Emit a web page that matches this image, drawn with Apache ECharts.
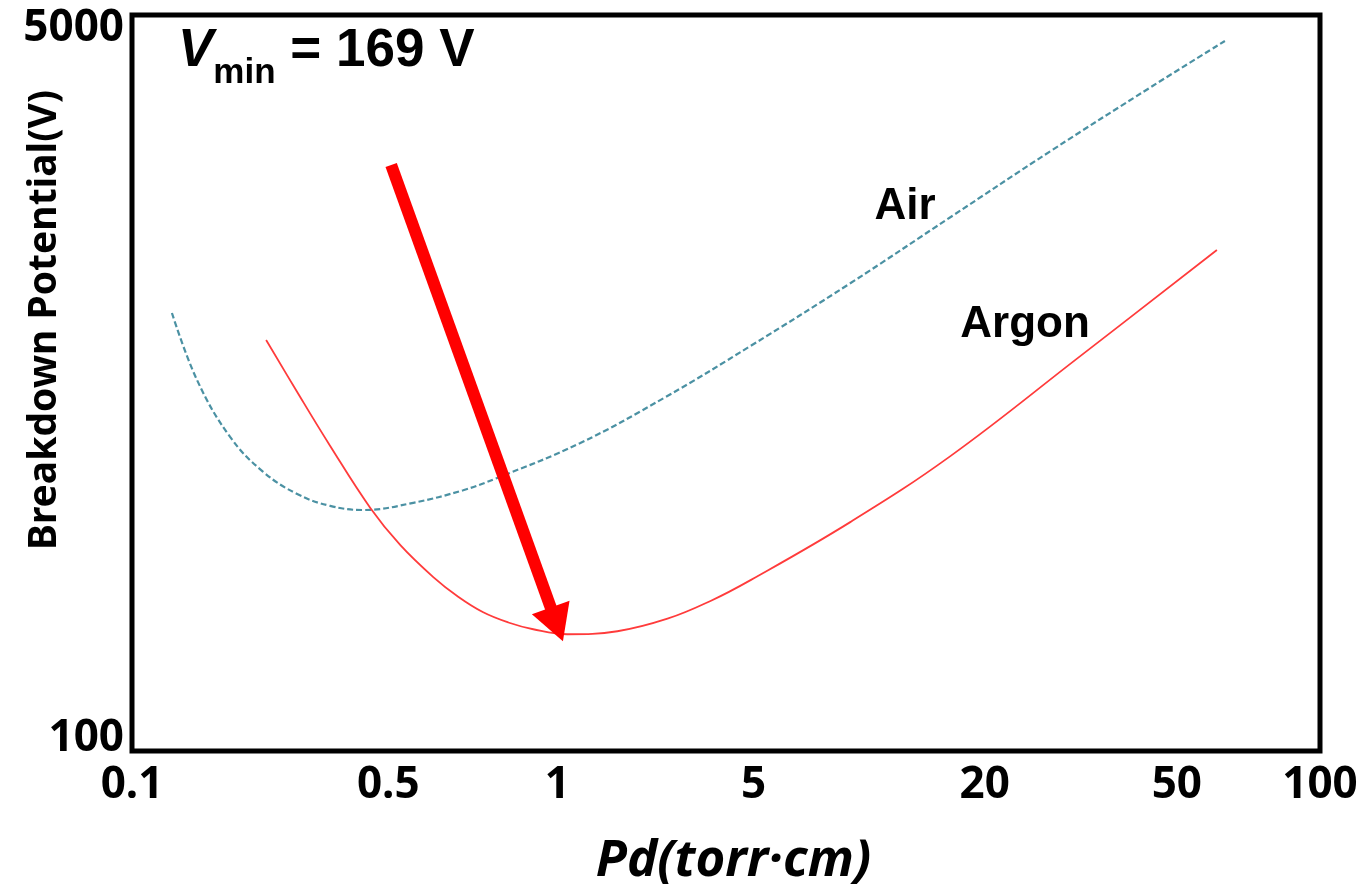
<!DOCTYPE html>
<html>
<head>
<meta charset="utf-8">
<style>
  html, body { margin: 0; padding: 0; background: #ffffff; }
  #chart { width: 1363px; height: 885px; }
</style>
<script src="https://cdn.jsdelivr.net/npm/echarts@6/dist/echarts.min.js"></script>
</head>
<body>
<div id="chart"></div>
<script>
// ---------- data ----------
const xTickValues = [0.1, 0.5, 1, 5, 20, 50, 100];
const xTickLabels = ['0.1', '0.5', '1', '5', '20', '50', '100'];
const yTickValues = [100, 5000];

// Air (dashed) : Pd (torr·cm) and breakdown voltage (V)
const airPd = [0.1285, 0.1505, 0.1852, 0.2279, 0.2822, 0.3472, 0.4273, 0.554, 0.680, 0.782, 1.208, 2.427, 4.879, 8.95, 16.31, 27.4, 44.2, 63.1];
const airV  = [1026, 718, 531, 441, 392, 368, 360, 374, 400, 427, 514, 656, 861, 1203, 1709, 2427, 3410, 4355];

// Argon (solid)
const argonPd = [0.2322, 0.2822, 0.3472, 0.4467, 0.525, 0.6014, 0.666, 0.738, 0.818, 0.906, 1.086, 1.637, 2.468, 3.513, 4.879, 8.95, 16.31, 31.2, 60.7];
const argonV  = [889, 674, 506, 364, 299, 252, 227, 209, 198, 191, 186, 189, 202, 222, 248, 338, 480, 808, 1434];

// Arrow annotation pointing at the argon minimum: [Pd, V] start and end
const arrowStart = [0.506, 2253];
const arrowEnd   = [0.998, 196];

// ---------- layout of the (non-uniform) Pd axis ----------
// fraction of the axis length at which each Pd tick sits in the picture
const xTickFrac = [0, 0.2157, 0.3580, 0.5232, 0.7178, 0.8795, 1];

function pdToAxis(pd) {
  for (let i = 0; i < xTickValues.length - 1; i++) {
    const a = xTickValues[i], b = xTickValues[i + 1];
    if (pd <= b || i === xTickValues.length - 2) {
      const t = Math.log(pd / a) / Math.log(b / a);
      return xTickFrac[i] + t * (xTickFrac[i + 1] - xTickFrac[i]);
    }
  }
}
function axisLabelFor(v) {
  let best = 0, d = Infinity;
  xTickFrac.forEach((f, i) => { const dd = Math.abs(f - v); if (dd < d) { d = dd; best = i; } });
  return xTickLabels[best];
}

const airData = airPd.map((p, i) => [pdToAxis(p), airV[i]]);
const argonData = argonPd.map((p, i) => [pdToAxis(p), argonV[i]]);

const tickFont = '"Noto Sans", "DejaVu Sans", sans-serif';
const arialFont = '"Liberation Sans", Arial, sans-serif';

const chart = echarts.init(document.getElementById('chart'));
chart.setOption({
  animation: false,
  backgroundColor: '#ffffff',
  title: {
    left: 178,
    top: 11,
    padding: 0,
    text: '{v|V}{sub|min}{n| = 169 V}',
    textStyle: {
      rich: {
        v:   { fontSize: 53, fontStyle: 'italic', fontWeight: 'bold', fontFamily: arialFont, color: '#000', lineHeight: 80, verticalAlign: 'middle' },
        sub: { fontSize: 35, fontWeight: 'bold', fontFamily: arialFont, color: '#000', lineHeight: 40, verticalAlign: 'bottom' },
        n:   { fontSize: 53, fontWeight: 'bold', fontFamily: arialFont, color: '#000', lineHeight: 80, verticalAlign: 'middle' }
      }
    }
  },
  grid: {
    left: 132, right: 43, top: 15, bottom: 134,
    outerBoundsMode: 'none',
    containLabel: false,
    show: true, borderColor: '#000', borderWidth: 5, backgroundColor: 'transparent'
  },
  xAxis: {
    type: 'value', min: 0, max: 1,
    name: 'Pd(torr·cm)',
    nameLocation: 'middle',
    nameGap: 85,
    nameMoveOverlap: false,
    nameTextStyle: { fontSize: 51, fontStyle: 'italic', fontWeight: 'bold', fontFamily: tickFont, color: '#000', padding: [0, 0, 0, 15] },
    axisLine: { show: false },
    axisTick: { show: false },
    splitLine: { show: false },
    axisLabel: {
      customValues: xTickFrac,
      formatter: (v) => axisLabelFor(v),
      fontSize: 44, fontWeight: 'bold', fontFamily: tickFont, color: '#000', margin: 12
    }
  },
  yAxis: {
    type: 'log', logBase: 10, min: 100, max: 5000,
    name: 'Breakdown Potential(V)',
    nameLocation: 'middle',
    nameGap: 68,
    nameMoveOverlap: false,
    nameTextStyle: { fontSize: 39, fontWeight: 'bold', fontFamily: tickFont, color: '#000', padding: [0, 0, 0, 126] },
    axisLine: { show: false },
    axisTick: { show: false },
    splitLine: { show: false },
    axisLabel: {
      customValues: yTickValues,
      formatter: (v) => String(Math.round(v)),
      verticalAlignMinLabel: 'bottom',
      verticalAlignMaxLabel: 'top',
      lineHeight: 26,
      fontSize: 44, fontWeight: 'bold', fontFamily: tickFont, color: '#000', margin: 8
    }
  },
  graphic: [
    { type: 'text', x: 905, y: 207, z: 10, style: { text: 'Air', fontSize: 44, fontWeight: 'bold', fontFamily: arialFont, fill: '#000', align: 'center', verticalAlign: 'middle' } },
    { type: 'text', x: 1025, y: 325, z: 10, style: { text: 'Argon', fontSize: 44, fontWeight: 'bold', fontFamily: arialFont, fill: '#000', align: 'center', verticalAlign: 'middle' } }
  ],
  series: [
    {
      name: 'Air', type: 'line', data: airData, smooth: 0.4, symbol: 'none',
      lineStyle: { color: '#4b91a3', width: 2.2, type: [6, 3] }
    },
    {
      name: 'Argon', type: 'line', data: argonData, smooth: 0.4, symbol: 'none',
      lineStyle: { color: '#ff3b3b', width: 1.8 },
      markLine: {
        silent: true,
        symbol: ['none', 'triangle'],
        symbolSize: [40, 36],
        label: { show: false },
        lineStyle: { color: '#ff0000', width: 12, type: 'solid' },
        data: [[
          { coord: [pdToAxis(arrowStart[0]), arrowStart[1]] },
          { coord: [pdToAxis(arrowEnd[0]), arrowEnd[1]] }
        ]]
      }
    }
  ]
});
</script>
</body>
</html>
